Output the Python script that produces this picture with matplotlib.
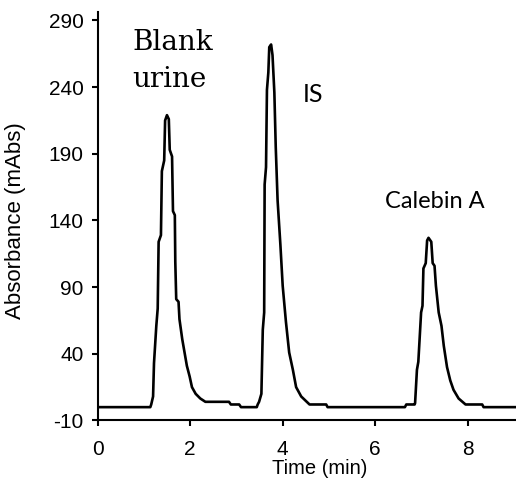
import numpy as np
import matplotlib.pyplot as plt

plt.rcParams['font.family'] = 'Liberation Sans'
plt.rcParams['axes.unicode_minus'] = False

# chromatogram trace (time in min, absorbance in mAbs)
time_min = [0, 1.14, 1.16, 1.20, 1.22, 1.27, 1.30, 1.32, 1.37, 1.39, 1.44, 1.46,
            1.50, 1.54, 1.56, 1.61, 1.63, 1.67, 1.68, 1.70, 1.75, 1.77, 1.83,
            1.88, 1.93, 1.99, 2.04, 2.12, 2.22, 2.33, 2.84, 2.88, 3.06, 3.10,
            3.44, 3.46, 3.49, 3.54, 3.57, 3.60, 3.61, 3.64, 3.66, 3.69, 3.71,
            3.75, 3.78, 3.82, 3.85, 3.89, 3.95, 4.00, 4.07, 4.14, 4.22, 4.29,
            4.40, 4.58, 4.94, 4.97, 6.64, 6.67, 6.85, 6.86, 6.90, 6.93, 6.99,
            7.02, 7.04, 7.09, 7.12, 7.15, 7.21, 7.24, 7.28, 7.31, 7.37, 7.43,
            7.48, 7.55, 7.62, 7.69, 7.80, 7.95, 8.31, 8.34, 9.1]
absorbance = [0, 0, 2, 8, 33, 61, 74, 124, 129, 177, 185, 215,
              219, 216, 193, 188, 147, 144, 109, 81, 79, 66, 51,
              41, 31, 23, 15, 10, 6.5, 4, 4, 2, 2, 0,
              0, 2, 4, 10, 58, 71, 167, 180, 238, 251, 270,
              272, 264, 236, 195, 155, 122, 91, 64, 41, 28, 15,
              8, 2, 2, 0, 0, 2, 2, 3, 28, 34, 71,
              76, 104, 108, 125, 127, 124, 108, 106, 91, 71, 61,
              46, 30, 20, 13, 6.5, 2, 2, 0, 0]

x_ticks = [0, 2, 4, 6, 8]
y_ticks = [-10, 40, 90, 140, 190, 240, 290]

fig = plt.figure(figsize=(5.16, 4.8), dpi=100)
ax = fig.add_axes([0.189, 0.124, 0.811, 0.85])

ax.plot(time_min, absorbance, color='black', lw=1.9)

ax.set_xlim(0, 9.04)
ax.set_ylim(-10, 296)
ax.set_xticks(x_ticks)
ax.set_yticks(y_ticks)

for s in ['top', 'right']:
    ax.spines[s].set_visible(False)
for s in ['left', 'bottom']:
    ax.spines[s].set_linewidth(1.5)

ax.tick_params(axis='both', direction='out', length=4, width=1.5,
               labelsize=15)
ax.tick_params(axis='x', pad=10)
ax.tick_params(axis='y', pad=6)

ax.set_ylabel('Absorbance (mAbs)', fontsize=16)
ax.yaxis.set_label_coords(-0.17, 0.49)
ax.set_xlabel('Time (min)', fontsize=14.5)
ax.xaxis.set_label_coords(0.53, -0.095)

# peak labels
ax.text(0.76, 268, 'Blank', family='DejaVu Serif', fontsize=20, va='baseline')
ax.text(0.76, 240, 'urine', family='DejaVu Serif', fontsize=20, va='baseline')
ax.text(4.43, 229, 'IS', family='Lato', fontsize=18, va='baseline')
ax.text(6.2, 149, 'Calebin A', family='Lato', fontsize=17, va='baseline')

fig.savefig('out.png', dpi=100)
